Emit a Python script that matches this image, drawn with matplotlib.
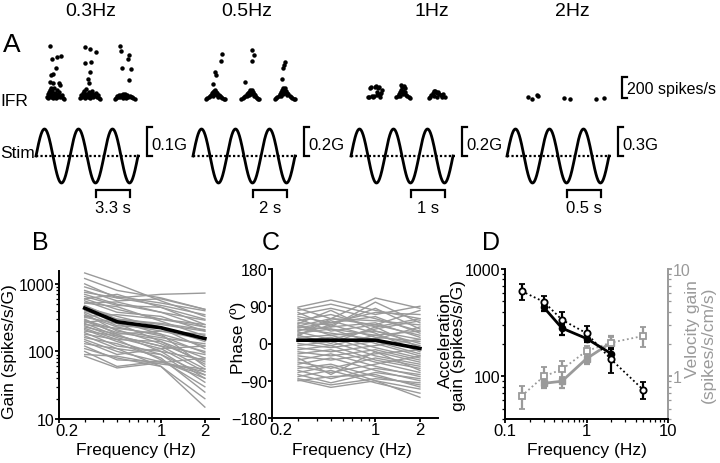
import numpy as np
import matplotlib
matplotlib.use("Agg")
import matplotlib.pyplot as plt
import matplotlib.transforms as mtransforms

plt.rcParams['font.family'] = ['Liberation Sans', 'DejaVu Sans']
plt.rcParams['font.size'] = 12

W, H = 720, 464
fig = plt.figure(figsize=(7.2, 4.64), dpi=100)
GRAY = '#9a9a9a'


def ax_px(x0, y0, x1, y1):
    # axes from pixel box (top-left origin)
    return fig.add_axes([x0 / W, 1 - y1 / H, (x1 - x0) / W, (y1 - y0) / H])


# ---------------- panel A data ----------------
stim_names = ['0.3Hz', '0.5Hz', '1Hz', '2Hz']
stim_amp = [0.1, 0.2, 0.2, 0.3]          # G
amp_labels = ['0.1G', '0.2G', '0.2G', '0.3G']
time_labels = ['3.3 s', '2 s', '1 s', '0.5 s']
n_cycles = 3

# IFR dots: (cycle position, spikes/s)
ifr_03 = [(0.41, 517), (0.46, 390), (0.61, 406), (0.73, 419), (0.58, 302), (0.43, 238), (0.49, 244),
          (0.42, 168), (0.51, 159), (0.69, 159), (0.71, 143),
          (0.32, 30), (0.34, 55), (0.36, 18), (0.38, 75), (0.40, 40), (0.41, 95), (0.43, 25), (0.45, 62),
          (0.47, 85), (0.49, 35), (0.51, 50), (0.53, 110), (0.55, 30), (0.57, 70), (0.59, 45), (0.61, 92),
          (0.63, 25), (0.65, 58), (0.67, 40), (0.69, 75), (0.72, 30), (0.75, 50), (0.78, 22), (0.81, 12),
          (0.44, 118), (0.60, 20), (0.50, 15),
          (1.44, 501), (1.60, 486), (1.75, 454), (1.44, 349), (1.62, 359), (1.59, 270), (1.52, 197), (1.57, 159),
          (1.30, 20), (1.32, 45), (1.35, 28), (1.37, 70), (1.39, 38), (1.41, 90), (1.43, 22), (1.45, 55),
          (1.47, 105), (1.49, 35), (1.51, 60), (1.53, 28), (1.55, 80), (1.57, 45), (1.59, 18), (1.61, 65),
          (1.63, 35), (1.65, 88), (1.67, 25), (1.69, 55), (1.72, 40), (1.75, 68), (1.78, 30), (1.82, 48),
          (1.86, 20), (1.88, 12),
          (2.47, 514), (2.50, 467), (2.74, 429), (2.70, 387), (2.52, 308), (2.79, 292), (2.74, 191),
          (2.33, 10), (2.36, 22), (2.39, 35), (2.42, 28), (2.45, 45), (2.48, 30), (2.51, 52), (2.54, 38),
          (2.57, 60), (2.60, 42), (2.63, 55), (2.66, 35), (2.69, 48), (2.72, 30), (2.75, 40), (2.78, 25),
          (2.82, 30), (2.86, 18), (2.90, 12), (2.56, 20), (2.64, 22)]
ifr_05 = [(0.85, 435), (0.83, 375), (0.66, 270), (0.69, 238), (0.59, 152),
          (0.38, 8), (0.42, 18), (0.46, 28), (0.50, 40), (0.54, 52), (0.57, 65), (0.60, 78), (0.63, 88),
          (0.66, 95), (0.68, 80), (0.70, 70), (0.72, 58), (0.75, 45), (0.78, 35), (0.82, 25), (0.86, 18),
          (0.90, 10), (0.94, 5), (0.58, 40), (0.62, 55), (0.65, 60), (0.70, 45), (0.74, 30), (0.64, 72),
          (1.73, 476), (1.80, 429), (1.73, 371), (1.53, 175),
          (1.42, 8), (1.46, 18), (1.50, 30), (1.54, 42), (1.58, 55), (1.62, 68), (1.65, 80), (1.68, 92),
          (1.71, 85), (1.74, 95), (1.76, 75), (1.79, 60), (1.82, 45), (1.85, 32), (1.88, 22), (1.92, 12),
          (1.95, 6), (1.60, 40), (1.66, 50), (1.72, 55), (1.78, 40), (1.70, 70),
          (2.70, 365), (2.68, 333), (2.65, 302), (2.62, 197),
          (2.40, 5), (2.44, 15), (2.48, 28), (2.52, 42), (2.56, 58), (2.60, 75), (2.63, 95), (2.66, 110),
          (2.69, 100), (2.71, 115), (2.74, 90), (2.77, 70), (2.80, 55), (2.84, 40), (2.88, 28), (2.92, 18),
          (2.96, 10), (2.99, 5), (2.58, 35), (2.64, 60), (2.70, 70), (2.76, 45), (2.67, 85)]
ifr_1 = [(0.50, 25), (0.54, 30), (0.57, 115), (0.60, 120), (0.62, 35), (0.65, 30), (0.68, 40), (0.70, 125),
         (0.73, 130), (0.75, 80), (0.77, 45), (0.80, 110), (0.82, 120), (0.84, 60), (0.86, 30), (0.88, 70),
         (0.90, 100),
         (1.33, 30), (1.37, 40), (1.40, 55), (1.43, 75), (1.46, 100), (1.48, 140), (1.50, 120), (1.52, 90),
         (1.54, 60), (1.56, 135), (1.58, 110), (1.60, 80), (1.63, 50), (1.66, 40), (1.70, 30), (1.74, 20),
         (1.45, 35),
         (2.28, 20), (2.32, 30), (2.36, 50), (2.40, 70), (2.43, 85), (2.46, 90), (2.50, 80), (2.53, 70),
         (2.56, 75), (2.60, 60), (2.64, 45), (2.68, 30), (2.72, 55), (2.75, 25), (2.44, 40), (2.52, 30)]
ifr_2 = [(0.61, 25), (0.73, 8), (0.87, 45), (0.90, 38), (1.69, 18), (1.84, 12), (2.62, 10), (2.86, 18)]
ifr_all = [ifr_03, ifr_05, ifr_1, ifr_2]

# ---------------- panel B / C data ----------------
freqs = [0.3, 0.5, 1, 2]
gain_cells = [
    [1450, 1000, 560, 330], [1200, 800, 620, 420], [1000, 620, 700, 730], [900, 650, 520, 400],
    [800, 560, 600, 420], [750, 620, 480, 350], [700, 500, 380, 290], [650, 480, 450, 250],
    [600, 420, 300, 230], [560, 380, 330, 200], [520, 460, 280, 170], [480, 300, 260, 210],
    [450, 330, 230, 140], [420, 260, 200, 180], [400, 280, 180, 120], [380, 240, 220, 110],
    [360, 200, 160, 130], [340, 230, 170, 95], [320, 260, 140, 80], [300, 180, 200, 150],
    [290, 210, 130, 70], [280, 190, 150, 100], [260, 170, 120, 90], [250, 220, 180, 60],
    [240, 160, 110, 50], [230, 180, 100, 75], [220, 150, 140, 65], [210, 140, 90, 45],
    [200, 170, 120, 55], [190, 120, 100, 40], [180, 150, 75, 30], [170, 110, 90, 35],
    [160, 130, 80, 25], [150, 100, 70, 45], [140, 90, 110, 120], [130, 110, 60, 15],
    [120, 75, 70, 50], [110, 80, 60, 20], [100, 60, 72, 40], [90, 85, 65, 55],
    [85, 57, 68, 80], [270, 300, 250, 200], [330, 350, 300, 250], [600, 700, 450, 300],
    [520, 540, 380, 230]]
gain_mean = [437, 275, 224, 155]

phase_cells = [
    [88, 105, 80, 60], [85, 60, 110, 85], [80, 95, 70, 90], [75, 40, 100, 50],
    [70, 85, 60, 30], [65, 50, 75, 70], [60, 30, 45, 20], [55, 70, 40, 60],
    [50, 45, 85, 35], [45, 20, 30, 10], [42, 60, 55, 45], [40, 35, 20, -5],
    [38, 50, 65, 25], [35, 25, 10, 40], [32, 40, 50, 15], [30, 55, 25, -20],
    [28, 10, 35, 55], [25, 35, 0, -30], [22, 45, 15, 5], [20, 0, 40, -10],
    [15, 20, -10, -35], [10, -5, 20, 30], [5, 15, -20, -45], [0, -10, 5, -25],
    [-5, 5, -30, -50], [-10, -20, -5, 10], [-15, -5, -40, -60], [-20, -30, -15, -40],
    [-25, -15, -45, -70], [-30, -40, -25, -15], [-40, -25, -55, -80], [-45, -60, -35, -55],
    [-50, -35, -65, -90], [-55, -70, -50, -30], [-60, -50, -80, -100], [-65, -85, -60, -75],
    [-70, -55, -90, -110], [-75, -95, -70, -85], [-80, -65, -95, -120], [-85, -100, -85, -95],
    [-88, -106, -90, -130], [-90, -80, -75, -105], [18, 60, 45, 80], [48, 80, 30, 0],
    [-35, -75, -20, -65]]
phase_mean = [8, 8, 8, -12]

# ---------------- panel D data ----------------
acc_open_f = [0.16, 0.3, 0.5, 1, 2, 5]
acc_open = [622, 494, 336, 252, 144, 74.5]
acc_open_lo = [514, 450, 295, 214, 108, 61]
acc_open_hi = [724, 556, 394, 295, 185, 88.5]
acc_fill_f = [0.3, 0.5, 1, 2]
acc_fill = [438, 281, 225, 163]
acc_fill_lo = [407, 245, 207, 149]
acc_fill_hi = [471, 306, 245, 181]
vel_open_f = [0.16, 0.3, 0.5, 1, 2, 5]
vel_open = [0.655, 1.0, 1.16, 1.72, 2.06, 2.38]
vel_open_lo = [0.50, 0.86, 0.98, 1.55, 1.85, 1.89]
vel_open_hi = [0.81, 1.21, 1.39, 1.92, 2.30, 2.85]
vel_fill_f = [0.3, 0.5, 1, 2]
vel_fill = [0.86, 0.90, 1.46, 2.06]
vel_fill_lo = [0.77, 0.78, 1.29, 1.79]
vel_fill_hi = [0.94, 0.97, 1.61, 2.35]

# ---------------- draw panel A ----------------
starts = [36, 193, 351, 507]
cyc_px = 34
ifr_top = 580

fig.text(3 / W, 1 - 45 / H, 'A', fontsize=19, va='center', ha='left')
fig.text(0, 1 - 102 / H, 'IFR', fontsize=12.5, va='center', ha='left')
fig.text(0, 1 - 154 / H, 'Stim', fontsize=12.5, va='center', ha='left')
title_x = [91, 247, 432, 572]
for tx, name in zip(title_x, stim_names):
    fig.text(tx / W, 1 - 11 / H, name, fontsize=14, ha='center', va='center')

t = np.linspace(0, n_cycles, 400)
for i in range(4):
    x0 = starts[i]
    x1 = x0 + cyc_px * n_cycles
    A = stim_amp[i]

    # IFR dots
    axi = ax_px(x0, 101 - ifr_top * 0.105, x1, 101)
    pts = np.array(ifr_all[i])
    axi.plot(pts[:, 0], pts[:, 1], 'o', color='black', ms=2.2, mec='black', clip_on=False)
    axi.set_xlim(0, n_cycles)
    axi.set_ylim(0, ifr_top)
    axi.axis('off')
    if i == 3:
        xb = 3.38
        axi.plot([xb + 0.15, xb, xb, xb + 0.15], [219, 219, 19, 19], color='black', lw=1.6,
                 clip_on=False, solid_joinstyle='miter')
        axi.text(3.53, 110, '200 spikes/s', fontsize=11.5, va='center', ha='left')

    # stimulus
    axs = ax_px(x0, 130, x1, 184)
    axs.plot(t, A * np.sin(2 * np.pi * t), color='black', lw=2.0, clip_on=False)
    axs.plot([0, 3.07], [0, 0], color='black', lw=1.6, ls=(0, (1, 1)), clip_on=False)
    axs.set_xlim(0, n_cycles)
    axs.set_ylim(-A, A)
    axs.axis('off')
    xb = 3.25
    axs.plot([xb + 0.15, xb, xb, xb + 0.15], [1.07 * A, 1.07 * A, 0, 0], color='black', lw=1.6,
             clip_on=False, solid_joinstyle='miter')
    axs.text(3.4, 0.43 * A, amp_labels[i], fontsize=12, va='center', ha='left')
    axs.plot([1.77, 1.77, 2.77, 2.77], [-1.52 * A, -1.26 * A, -1.26 * A, -1.52 * A], color='black',
             lw=1.6, clip_on=False, solid_joinstyle='miter')
    axs.text(2.27, -1.9 * A, time_labels[i], fontsize=12, ha='center', va='center')


def style(ax):
    for s in ['top', 'right']:
        ax.spines[s].set_visible(False)
    for s in ['left', 'bottom']:
        ax.spines[s].set_linewidth(1.4)
    ax.tick_params(which='major', direction='out', length=3, width=1.3, pad=0.5)
    ax.tick_params(which='minor', direction='out', length=2, width=0.9)
    ax.tick_params(axis='y', labelsize=11.5)
    ax.tick_params(axis='x', labelsize=12, pad=0)


def shift_first_xlabel(ax, dx_px):
    # the leftmost frequency label sits a bit right of the corner
    lab = ax.get_xticklabels()[0]
    lab.set_transform(lab.get_transform() + mtransforms.ScaledTranslation(dx_px / 100, 0, fig.dpi_scale_trans))


# ---------------- panel B ----------------
fig.text(32 / W, 1 - 243 / H, 'B', fontsize=18, va='center', ha='left')
axB = ax_px(59, 272, 219, 420)
for row in gain_cells:
    axB.plot(freqs, row, color=GRAY, lw=1.0)
axB.plot(freqs, gain_mean, color='black', lw=2.6)
axB.set_xscale('log')
axB.set_yscale('log')
axB.set_xlim(0.2, 2.5)
axB.set_ylim(10, 1550)
axB.set_xticks([0.2, 1, 2])
axB.set_xticklabels(['0.2', '1', '2'])
axB.set_yticks([10, 100, 1000])
axB.set_yticklabels(['10', '100', '1000'])
style(axB)
shift_first_xlabel(axB, 8)
fig.text(10 / W, 1 - 352 / H, 'Gain (spikes/s/G)', rotation=90, fontsize=12.5, ha='center', va='center')
fig.text(136 / W, 1 - 451 / H, 'Frequency (Hz)', fontsize=12.5, ha='center', va='center')

# ---------------- panel C ----------------
fig.text(262 / W, 1 - 243 / H, 'C', fontsize=18, va='center', ha='left')
axC = ax_px(272, 270, 438, 419)
for row in phase_cells:
    axC.plot(freqs, row, color=GRAY, lw=1.0)
axC.plot(freqs, phase_mean, color='black', lw=2.6)
axC.set_xscale('log')
axC.set_xlim(0.2, 2.65)
axC.set_ylim(-180, 180)
axC.set_xticks([0.2, 1, 2])
axC.set_xticklabels(['0.2', '1', '2'])
axC.set_yticks([-180, -90, 0, 90, 180])
style(axC)
shift_first_xlabel(axC, 9)
fig.text(238 / W, 1 - 338 / H, 'Phase (º)', rotation=90, fontsize=12.5, ha='center', va='center')
fig.text(352 / W, 1 - 451 / H, 'Frequency (Hz)', fontsize=12.5, ha='center', va='center')

# ---------------- panel D ----------------
fig.text(482 / W, 1 - 243 / H, 'D', fontsize=18, va='center', ha='left')
axD = ax_px(505, 270, 668, 420)
axV = axD.twinx()
axD.set_xscale('log')
axD.set_yscale('log')
axV.set_yscale('log')
axD.set_xlim(0.1, 10)
axD.set_ylim(40, 1000)
axV.set_ylim(0.4, 10)

ekw = dict(capsize=2.2, elinewidth=1.6, capthick=1.6)
axV.plot(vel_fill_f, vel_fill, color=GRAY, lw=2.0)
axV.errorbar(vel_fill_f, vel_fill,
             yerr=[np.subtract(vel_fill, vel_fill_lo), np.subtract(vel_fill_hi, vel_fill)],
             fmt='s', color=GRAY, ms=4.5, mfc=GRAY, mec=GRAY, **ekw)
axV.plot(vel_open_f, vel_open, color=GRAY, lw=1.3, ls=(0, (1, 1.5)))
axV.errorbar(vel_open_f, vel_open,
             yerr=[np.subtract(vel_open, vel_open_lo), np.subtract(vel_open_hi, vel_open)],
             fmt='s', color=GRAY, ms=4.5, mfc='white', mec=GRAY, mew=1.3, **ekw)

axD.set_zorder(axV.get_zorder() + 1)
axD.patch.set_visible(False)
axD.plot(acc_fill_f, acc_fill, color='black', lw=2.0)
axD.errorbar(acc_fill_f, acc_fill,
             yerr=[np.subtract(acc_fill, acc_fill_lo), np.subtract(acc_fill_hi, acc_fill)],
             fmt='o', color='black', ms=4.5, **ekw)
axD.plot(acc_open_f, acc_open, color='black', lw=1.3, ls=(0, (1, 1.5)))
axD.errorbar(acc_open_f, acc_open,
             yerr=[np.subtract(acc_open, acc_open_lo), np.subtract(acc_open_hi, acc_open)],
             fmt='o', color='black', ms=4.5, mfc='white', mec='black', mew=1.3, **ekw)

axD.set_xticks([0.1, 1, 10])
axD.set_xticklabels(['0.1', '1', '10'])
axD.set_yticks([100, 1000])
axD.set_yticklabels(['100', '1000'])
axV.set_yticks([1, 10])
axV.set_yticklabels(['1', '10'])
for ax in (axD, axV):
    ax.spines['top'].set_visible(False)
    ax.tick_params(which='major', direction='out', length=3, width=1.3, pad=0.5, labelsize=11.5)
    ax.tick_params(which='minor', direction='out', length=2, width=0.9)
axD.tick_params(axis='x', labelsize=12, pad=0)
axD.spines['right'].set_visible(False)
axD.spines['left'].set_linewidth(1.4)
axD.spines['bottom'].set_linewidth(1.4)
axV.spines['left'].set_visible(False)
axV.spines['bottom'].set_visible(False)
axV.spines['right'].set_color(GRAY)
axV.spines['right'].set_linewidth(1.4)
axV.tick_params(which='both', colors=GRAY, labelcolor=GRAY)

fig.text(445 / W, 1 - 340 / H, 'Acceleration', rotation=90, fontsize=12.5, ha='center', va='center')
fig.text(459 / W, 1 - 346 / H, 'gain (spikes/s/G)', rotation=90, fontsize=12.5, ha='center', va='center')
fig.text(692 / W, 1 - 329 / H, 'Velocity gain', rotation=90, fontsize=12.5, ha='center', va='center',
         color=GRAY)
fig.text(708 / W, 1 - 345 / H, '(spikes/s/cm/s)', rotation=90, fontsize=12.5, ha='center', va='center',
         color=GRAY)
fig.text(587 / W, 1 - 451 / H, 'Frequency (Hz)', fontsize=12.5, ha='center', va='center')

fig.savefig('out.png', dpi=100)
